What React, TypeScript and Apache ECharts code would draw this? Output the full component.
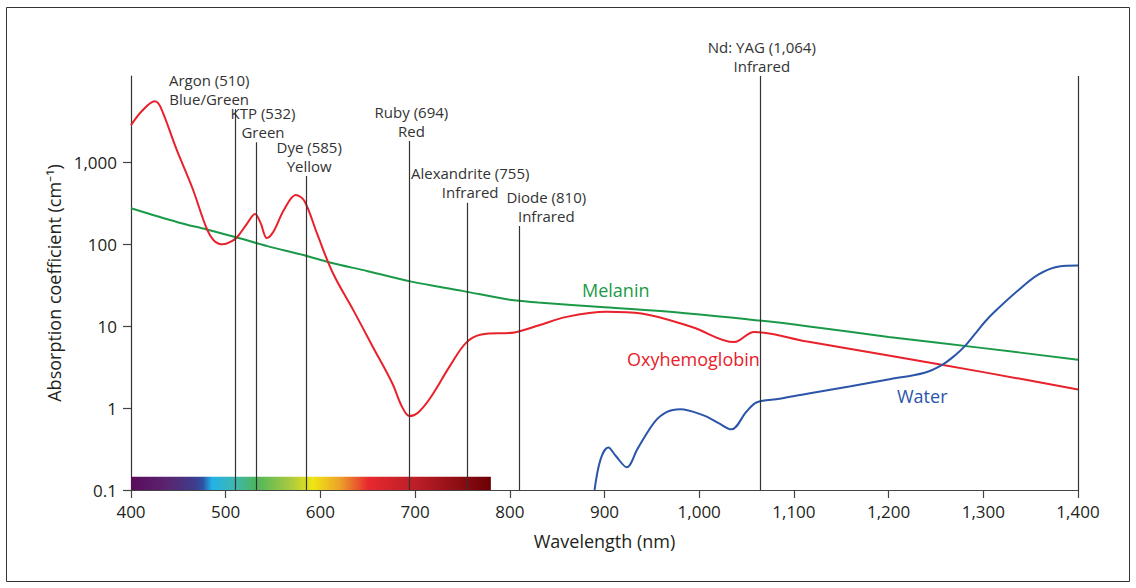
import React, { useEffect, useRef } from "react";
import * as echarts from "echarts";

// Absorption curves: [wavelength nm, absorption coefficient cm^-1]
const melanin: [number, number][] = [
  [400, 275], [450, 185], [480, 152], [512, 121], [544, 95], [582, 74], [610, 60],
  [650, 47], [696, 35], [750, 27], [800, 21], [830, 19.5], [900, 17], [975, 14.8],
  [1064, 11.7], [1114, 10], [1200, 7.4], [1300, 5.4], [1400, 3.9],
];

const oxyhemoglobin: [number, number][] = [
  [400, 2850], [412, 4300], [425, 5600], [431, 4800], [448, 1450], [465, 480],
  [480, 155], [488, 110], [497, 100], [505, 107], [512, 122], [522, 175], [531, 235],
  [537, 180], [543.5, 119], [550, 140], [562, 270], [574, 400], [583, 340],
  [597, 130], [613, 45], [635, 15.5], [655, 5.7], [676, 2], [686, 1.05], [694, 0.8],
  [703, 0.88], [716, 1.33], [737, 3.3], [754, 6.3], [770, 7.9], [805, 8.4],
  [830, 10.2], [860, 13], [902, 15], [939, 14.3], [993, 9.7], [1037, 6.4],
  [1058, 8.5], [1114, 6.5], [1200, 4.4], [1300, 2.75], [1400, 1.69],
];

const water: [number, number][] = [
  [889.5, 0.1], [896, 0.24], [904, 0.33], [912, 0.26], [923.5, 0.19], [935, 0.32],
  [953, 0.68], [966, 0.9], [980, 0.97], [1004, 0.82], [1020, 0.66], [1034, 0.55],
  [1050, 0.91], [1061, 1.18], [1085, 1.3], [1114, 1.5], [1160, 1.85], [1201, 2.25],
  [1238, 2.7], [1257, 3.4], [1270, 4.4], [1281, 5.8], [1291, 8], [1302, 11.4],
  [1313, 15.4], [1336, 26.9], [1358, 42.7], [1380, 53.7], [1400, 55],
];

// Laser lines: wavelength, label lines, and the value where each line starts
const laserWavelengths = [510, 532, 585, 694, 755, 810, 1064];
const laserNames = [
  "Argon (510)", "KTP (532)", "Dye (585)", "Ruby (694)",
  "Alexandrite (755)", "Diode (810)", "Nd: YAG (1,064)",
];
const laserColors = [
  "Blue/Green", "Green", "Yellow", "Red", "Infrared", "Infrared", "Infrared",
];
const laserLineTops = [4450, 1760, 682, 1825, 322, 167, 11350];
const laserLabelDx = [-26, 7, 3, 2, 3, 27, 2];

const yTicks = [0.1, 1, 10, 100, 1000];
const visibleSpectrum = [400, 780];

const FONT = "'Open Sans', 'Noto Sans', sans-serif";
const TEXT = "#231f20";
const RED = "#e8212b";
const GREEN = "#1a9a48";
const BLUE = "#2b55a8";

export default function App() {
  const ref = useRef<HTMLDivElement>(null);

  useEffect(() => {
    if (!ref.current) return;
    const chart = echarts.init(ref.current, null, { renderer: "svg" });

    const laserLines = laserWavelengths.map((wl, i) => [
      {
        coord: [wl, laserLineTops[i]],
        label: {
          show: true,
          position: "start",
          formatter: laserNames[i] + "\n" + laserColors[i],
          offset: [laserLabelDx[i], 0],
          distance: 1,
          color: "#333",
          fontSize: 15,
          lineHeight: 19,
          fontFamily: FONT,
          align: "center",
        },
      },
      { coord: [wl, 0.1] },
    ]);

    const option: any = {
      animation: false,
      backgroundColor: "#fff",
      textStyle: { fontFamily: FONT },
      grid: { left: 131, right: 58, top: 76, bottom: 98, containLabel: false },
      xAxis: {
        type: "value",
        min: 400,
        max: 1400,
        interval: 100,
        name: "Wavelength (nm)",
        nameLocation: "middle",
        nameGap: 42,
        nameTextStyle: { fontSize: 18, color: TEXT, fontFamily: FONT },
        axisLine: { show: true, lineStyle: { color: "#444", width: 1.2 } },
        axisTick: { show: true, length: 8, lineStyle: { color: "#444", width: 1.2 } },
        axisLabel: {
          fontSize: 17,
          color: TEXT,
          fontFamily: FONT,
          margin: 13,
          formatter: (v: number) => v.toLocaleString("en-US"),
        },
        splitLine: { show: false },
      },
      yAxis: {
        type: "log",
        logBase: 10,
        min: 0.1,
        max: 11350,
        name: "Absorption coefficient (cm\u207B\u00B9)",
        nameLocation: "middle",
        nameGap: 68,
        nameRotate: 90,
        nameTextStyle: { fontSize: 18, color: TEXT, fontFamily: FONT },
        axisLine: { show: true, lineStyle: { color: "#333", width: 1.2 } },
        axisTick: {
          show: true,
          length: 8,
          customValues: yTicks,
          lineStyle: { color: "#444", width: 1.2 },
        },
        axisLabel: {
          fontSize: 17,
          color: TEXT,
          fontFamily: FONT,
          margin: 14,
          customValues: yTicks,
          formatter: (v: number) => (v > 1000 ? "" : v.toLocaleString("en-US")),
        },
        splitLine: { show: false },
      },
      series: [
        {
          name: "Melanin",
          type: "line",
          data: melanin,
          smooth: 0.35,
          showSymbol: false,
          lineStyle: { color: GREEN, width: 2 },
          z: 3,
          markLine: {
            silent: true,
            symbol: ["none", "none"],
            lineStyle: { color: "#333", width: 1.2, type: "solid" },
            label: { show: false },
            data: [
              ...laserLines,
              [
                { coord: [1400, 11350], label: { show: false } },
                { coord: [1400, 0.1] },
              ],
            ],
          },
        },
        {
          name: "Oxyhemoglobin",
          type: "line",
          data: oxyhemoglobin,
          smooth: 0.35,
          showSymbol: false,
          lineStyle: { color: RED, width: 2 },
          z: 4,
        },
        {
          name: "Water",
          type: "line",
          data: water,
          smooth: 0.35,
          showSymbol: false,
          lineStyle: { color: BLUE, width: 2 },
          z: 4,
        },
        {
          name: "spectrum",
          type: "line",
          data: [],
          z: 6,
          markArea: {
            silent: true,
            itemStyle: {
              color: new echarts.graphic.LinearGradient(0, 0, 1, 0, [
                { offset: 0, color: "#5b0b5c" },
                { offset: 0.1, color: "#5a2470" },
                { offset: 0.18, color: "#3d3e8c" },
                { offset: 0.2, color: "#2c55a5" },
                { offset: 0.225, color: "#23b2e6" },
                { offset: 0.29, color: "#3fb7b0" },
                { offset: 0.345, color: "#4cb55e" },
                { offset: 0.45, color: "#b0cc3c" },
                { offset: 0.505, color: "#efe613" },
                { offset: 0.58, color: "#eca22a" },
                { offset: 0.66, color: "#e8282e" },
                { offset: 0.8, color: "#b81d26" },
                { offset: 1, color: "#6c0005" },
              ]),
            },
            data: [[{ coord: [visibleSpectrum[0], 0.1] }, { coord: [visibleSpectrum[1], 0.145] }]],
          },
        },
      ],
      graphic: [
        {
          type: "rect",
          silent: true,
          z: -10,
          shape: { x: 6.5, y: 7.5, width: 1123, height: 574 },
          style: { fill: "none", stroke: "#333", lineWidth: 1 },
        },
        {
          type: "text",
          left: 582,
          top: 281,
          style: { text: "Melanin", fill: GREEN, fontSize: 18, fontFamily: FONT },
        },
        {
          type: "text",
          left: 627,
          top: 350,
          style: { text: "Oxyhemoglobin", fill: RED, fontSize: 18, fontFamily: FONT },
        },
        {
          type: "text",
          left: 897,
          top: 387,
          style: { text: "Water", fill: BLUE, fontSize: 18, fontFamily: FONT },
        },
      ],
    };

    chart.setOption(option);
    return () => chart.dispose();
  }, []);

  return (
    <div
      ref={ref}
      style={{ position: "absolute", left: 0, top: 0, width: 1136, height: 588, background: "#fff" }}
    />
  );
}
